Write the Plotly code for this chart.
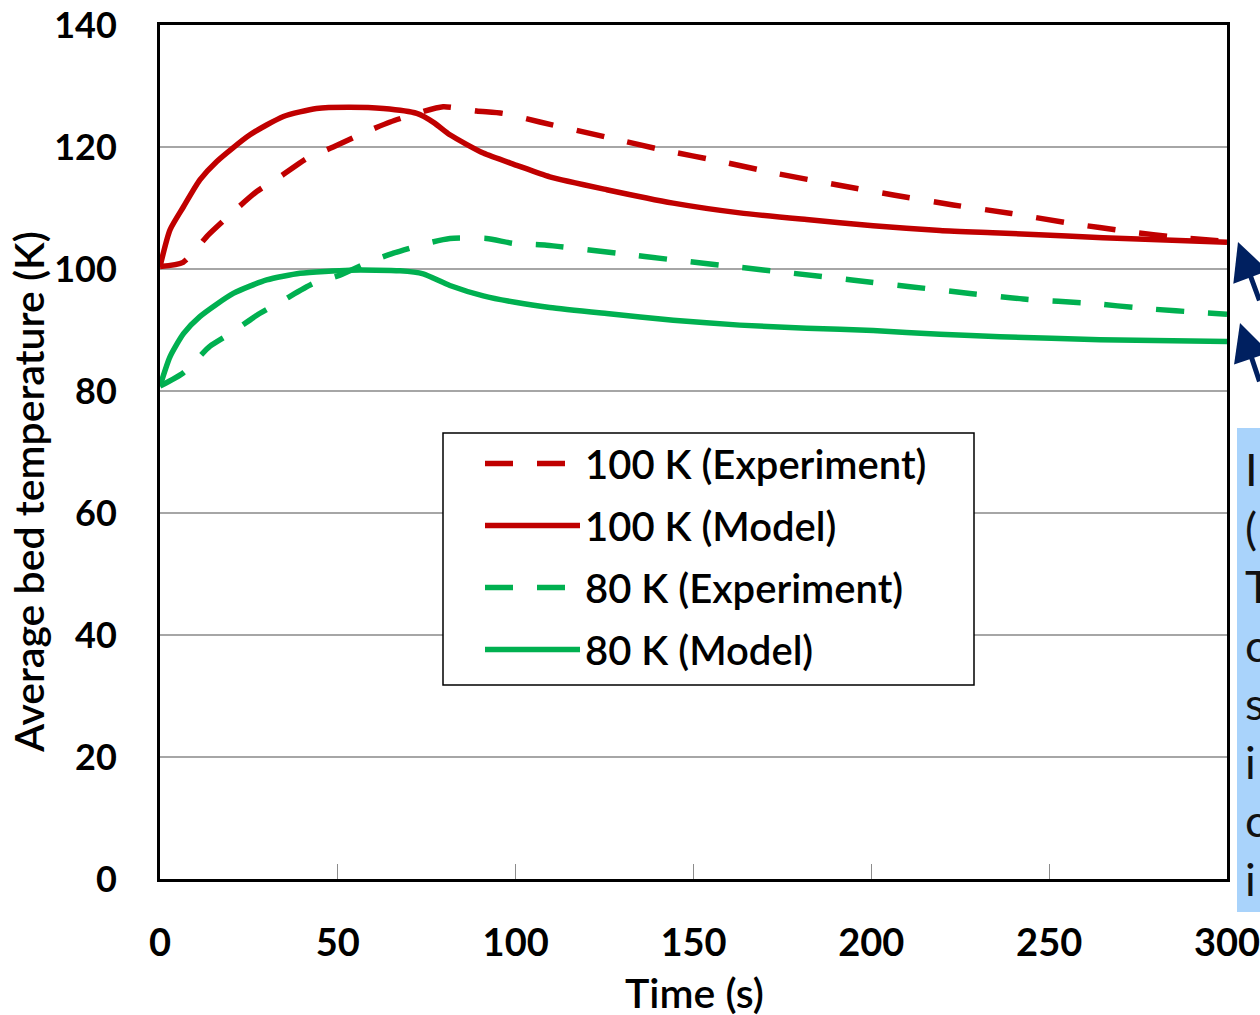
import plotly.graph_objects as go

# Bed temperature during the run, 100 K case
t_100_exp = [0, 6.5, 13.6, 19.7, 27.2, 33.7, 41.2, 48.7, 57.2, 64.7, 72.2, 79.6, 89, 96.5,
             106.8, 125.6, 141.5, 157.9, 173.8, 190.2, 206.6, 223, 239.4, 255.8, 272.7, 286, 300]
T_100_exp = [100.4, 101.1, 105.6, 108.9, 112.7, 115.1, 118.1, 120, 122.3, 124.1, 125.5, 126.6, 125.9, 125.5,
             124.1, 121.6, 119.5, 117.6, 115.6, 113.8, 112.1, 110.5, 109.1, 107.5, 106.1, 105.2, 104.5]

t_100_mod = [0, 2.8, 6.6, 11.2, 15.9, 25.3, 34.7, 44, 53, 62.8, 72.2, 77, 81.5, 90.9, 100.3,
             109.6, 125.6, 144.3, 163, 181.8, 200.5, 219.3, 236, 255, 275, 300]
T_100_mod = [100.4, 106.4, 110.2, 114.6, 117.6, 122, 125, 126.3, 126.5, 126.3, 125.5, 124.0, 122, 119, 117,
             115.1, 113, 110.8, 109.2, 108.1, 107.1, 106.3, 105.9, 105.4, 104.9, 104.4]

# Bed temperature during the run, 80 K case
t_80_exp = [0, 6.6, 14, 19.7, 28, 34.7, 43, 50.6, 59, 65.6, 75, 81.5, 91.8, 99.3,
            108.7, 128.4, 144.3, 161.2, 178, 194.5, 210.9, 227.7, 244.1, 261, 277.4, 294.3, 300]
T_80_exp = [80.8, 83, 87.3, 89.4, 92.7, 94.9, 97.6, 99, 101.2, 102.6, 104.2, 105, 105, 104.2,
            103.9, 102.6, 101.5, 100.4, 99.3, 98.2, 97.1, 96, 95, 94.4, 93.5, 92.8, 92.6]

t_80_mod = [0, 2.8, 6.6, 11.2, 20.6, 30, 39.4, 53.4, 67.5, 74, 81.5, 90.9, 100.3, 109.6,
            125.6, 144.3, 163, 181.8, 200.5, 219.3, 236.2, 264.3, 300]
T_80_mod = [80.8, 85.6, 89.4, 92.2, 96, 98.2, 99.3, 99.8, 99.7, 99.2, 97.3, 95.6, 94.5, 93.7,
            92.7, 91.6, 90.8, 90.3, 89.9, 89.3, 88.9, 88.4, 88.1]

x_ticks = [0, 50, 100, 150, 200, 250, 300]
y_ticks = [0, 20, 40, 60, 80, 100, 120, 140]

RED = "#C00000"
GREEN = "#00B050"
NAVY = "#002060"
DASH = "28px,24px"

# plot frame in pixels
L, R, T, B = 160, 1227, 25, 879
W, H = R - L, B - T


def px_x(px):
    return (px - L) / W


def px_y(py):
    return (B - py) / H


fig = go.Figure()
series = [
    ("100 K (Experiment)", t_100_exp, T_100_exp, RED, DASH),
    ("100 K (Model)", t_100_mod, T_100_mod, RED, "solid"),
    ("80 K (Experiment)", t_80_exp, T_80_exp, GREEN, DASH),
    ("80 K (Model)", t_80_mod, T_80_mod, GREEN, "solid"),
]
for i, (name, xs, ys, col, dash) in enumerate(series):
    fig.add_trace(go.Scatter(
        x=xs, y=ys, name=name, mode="lines", legendgroup=f"g{i}",
        line=dict(color=col, width=5.5, dash=dash, shape="spline", smoothing=0.6),
    ))

fig.update_layout(
    width=1260, height=1015,
    margin=dict(l=L, r=1260 - R, t=T, b=1015 - B, autoexpand=False),
    paper_bgcolor="white", plot_bgcolor="white",
    showlegend=True,
    legend=dict(
        x=px_x(480), y=px_y(431), xanchor="left", yanchor="top",
        bgcolor="rgba(0,0,0,0)", borderwidth=0,
        font=dict(family="Lato", size=40, color="black", weight=600),
        itemwidth=95, tracegroupgap=7,
    ),
    xaxis=dict(
        range=[0, 300], tickvals=x_ticks, ticktext=[str(v) for v in x_ticks],
        ticks="inside", ticklen=15, tickwidth=1, tickcolor="#8c8c8c",
        showgrid=False, zeroline=False, automargin=False,
        showline=True, linecolor="black", linewidth=3, mirror=True,
        tickfont=dict(family="Lato", size=38, color="black", weight="bold"),
        ticklabelstandoff=28, ticklabeloverflow="allow",
    ),
    yaxis=dict(
        range=[0, 140], tickvals=y_ticks, ticktext=[str(v) for v in y_ticks],
        ticks="", showgrid=True, gridcolor="#A6A6A6", gridwidth=1.8, zeroline=False,
        showline=True, linecolor="black", linewidth=3, mirror=True, automargin=False,
        tickfont=dict(family="Lato", size=36, color="black", weight="bold"),
        ticklabelstandoff=33, ticklabeloverflow="allow",
    ),
)

# axis titles
fig.add_annotation(xref="paper", yref="paper", x=px_x(28), y=px_y(492),
                   text="Average bed temperature (K)", textangle=-90, showarrow=False,
                   xanchor="center", yanchor="middle",
                   font=dict(family="Lato", size=41, color="black", weight=600))
fig.add_annotation(xref="paper", yref="paper", x=px_x(694), y=px_y(992),
                   text="Time (s)", showarrow=False, xanchor="center", yanchor="middle",
                   font=dict(family="Lato", size=41, color="black", weight=600))

# legend frame
fig.add_shape(type="rect", xref="paper", yref="paper",
              x0=px_x(443), x1=px_x(974), y0=px_y(685), y1=px_y(433),
              fillcolor="white", line=dict(color="black", width=1.5), layer="above")

# Light-blue note panel at the right edge (mostly outside the frame)
fig.add_shape(type="rect", xref="paper", yref="paper",
              x0=px_x(1237), x1=px_x(1290), y0=px_y(912), y1=px_y(428),
              fillcolor="#A9D3FB", line=dict(width=0), layer="below")
fig.add_annotation(xref="paper", yref="paper", x=px_x(1243), y=px_y(440),
                   xanchor="left", yanchor="top", align="left", showarrow=False,
                   text="I<br>(<br>T<br>c<br>s<br>i<br>c<br>i",
                   font=dict(family="Lato", size=45, color="#111111"))

# Pointer arrows at the right end of the curves
for tip_px, tip_py in [(1238, 242), (1240, 323)]:
    fig.add_annotation(xref="paper", yref="paper", x=px_x(tip_px), y=px_y(tip_py),
                       ax=30, ay=60, text="", showarrow=True,
                       arrowhead=2, arrowsize=1.5, arrowwidth=5, arrowcolor=NAVY)

fig.write_html("out.html")
